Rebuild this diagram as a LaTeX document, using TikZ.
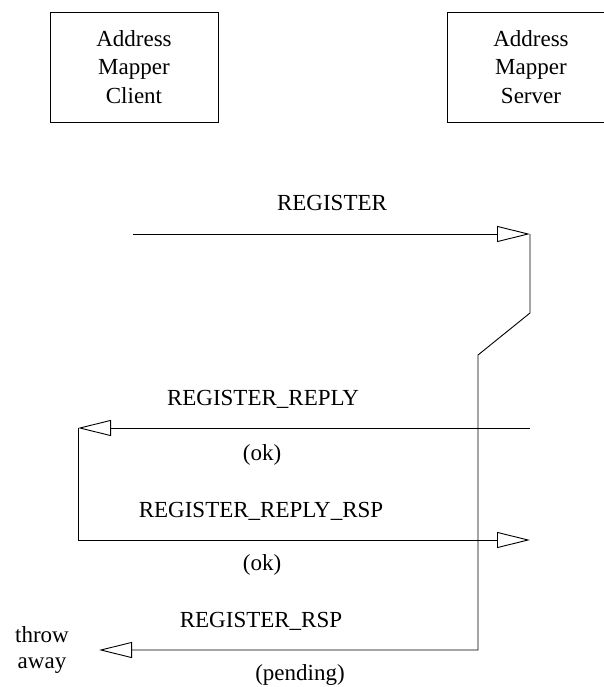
\documentclass[tikz,border=0pt]{standalone}
\usepackage{fontspec}
\setmainfont{Liberation Serif}
\usetikzlibrary{arrows.meta}
\begin{document}
\begin{tikzpicture}[x=1pt,y=-1pt,line width=0.9pt,
  box/.style={draw, minimum width=168pt, minimum height=110pt, align=center,
    inner sep=0pt, font=\fontsize{23}{28.5}\selectfont},
  lbl/.style={anchor=base, inner sep=0pt, font=\fontsize{23}{26}\selectfont},
  msg/.style={-{Triangle[open,length=33pt,width=16pt]}}]
\useasboundingbox (0,0) rectangle (603,687);
\node[box] (client) at (134,67) {Address\\Mapper\\Client};
\node[box] (server) at (531,67) {Address\\Mapper\\Server};
\coordinate (r0) at (133,234);
\coordinate (r1) at (530,234);
\coordinate (k1) at (530,313);
\coordinate (k2) at (478,355);
\coordinate (k3) at (478,650);
\coordinate (t0) at (99,650);
\coordinate (p0) at (530,428);
\coordinate (p1) at (78,428);
\coordinate (q1) at (78,540);
\coordinate (q2) at (530,540);
\draw[msg] (r0) -- (r1);
\draw[msg] (r1) -- (k1) -- (k2) -- (k3) -- (t0);
\draw[msg] (p0) -- (p1);
\draw[msg] (p1) -- (q1) -- (q2);
\node[lbl] (lreg) at (332,210) {REGISTER};
\node[lbl] (lrep) at (263,405) {REGISTER\_REPLY};
\node[lbl] (ok1) at (262,460) {(ok)};
\node[lbl] (lrr) at (261,517) {REGISTER\_REPLY\_RSP};
\node[lbl] (ok2) at (262,570) {(ok)};
\node[lbl] (lrsp) at (261,627) {REGISTER\_RSP};
\node[lbl] (pend) at (300,680) {(pending)};
\node[lbl] (throw) at (42,642) {throw};
\node[lbl] (away) at (42,668) {away};
\end{tikzpicture}
\end{document}
